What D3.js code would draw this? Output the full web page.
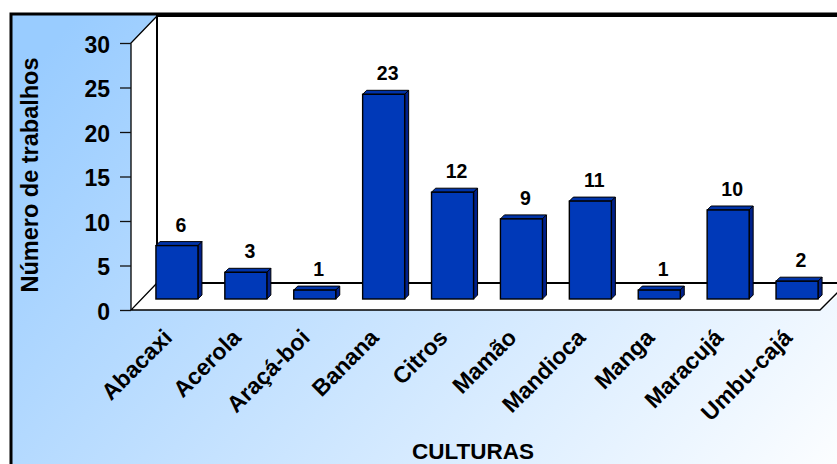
<!DOCTYPE html>
<html><head><meta charset="utf-8">
<script src="https://cdn.jsdelivr.net/npm/d3@7"></script>
<style>html,body{margin:0;padding:0;background:#fff;overflow:hidden}svg{display:block}text{font-family:"Liberation Sans",Arial,sans-serif;font-weight:bold;fill:#000}</style>
</head><body><div id="c"></div>
<script>
const categories=["Abacaxi","Acerola","Araçá-boi","Banana","Citros","Mamão","Mandioca","Manga","Maracujá","Umbu-cajá"];
const values=[6,3,1,23,12,9,11,1,10,2];
const yTicks=[0,5,10,15,20,25,30];
const xTitle="CULTURAS", yTitle="Número de trabalhos";

const W=837,H=464;
const svg=d3.select("#c").append("svg").attr("width",W).attr("height",H);
const defs=svg.append("defs");
const g=defs.append("linearGradient").attr("id","bg").attr("gradientUnits","userSpaceOnUse")
 .attr("x1",90).attr("y1",0).attr("x2",780).attr("y2",580);
g.append("stop").attr("offset",0).attr("stop-color","#99ccff");
g.append("stop").attr("offset",1).attr("stop-color","#ffffff");
svg.append("rect").attr("x",11).attr("y",14).attr("width",W).attr("height",H).attr("fill","url(#bg)").attr("stroke","#000").attr("stroke-width",3);

const x0=131,x1=820,dx=26,dy=-27;
const y=d3.scaleLinear().domain([0,30]).range([310,43]);
const x=d3.scaleBand().domain(categories).range([x0+11.5,x1+11.5]).paddingInner(0.39).paddingOuter(0.195);
const sx=4, sy=-4;

const line=(pts)=>d3.line()(pts);
// walls and floor
svg.append("path").attr("d",line([[x0,y(0)],[x0,y(30)],[x0+dx,y(30)+dy],[x0+dx,y(0)+dy]])+"Z").attr("fill","#fff");
svg.append("path").attr("d",line([[x0+dx,y(30)+dy],[W+5,y(30)+dy],[W+5,y(0)+dy],[x0+dx,y(0)+dy]])+"Z").attr("fill","#fff");
svg.append("path").attr("d",line([[x0,y(0)],[x0+dx,y(0)+dy],[W+5,y(0)+dy],[W+5,y(0)-17],[x1,y(0)]])+"Z").attr("fill","#fff");
// wall lines
const st=(s,w=1.5)=>s.attr("fill","none").attr("stroke","#000").attr("stroke-width",w);
st(svg.append("path").attr("d",line([[x0+dx,y(0)+dy],[x0+dx,y(30)+dy],[W,y(30)+dy]])),2);
st(svg.append("path").attr("d",line([[x0+dx,y(0)+dy],[W,y(0)+dy]])),2);
st(svg.append("path").attr("d",line([[x0,y(0)],[x0,y(30)],[x0+dx,y(30)+dy]])),1.3);
st(svg.append("path").attr("d",line([[x0+dx,y(0)+dy],[x0,y(0)],[x1,y(0)],[W+2,y(0)-19]])),1.3);
// y axis
const ax=svg.append("g").attr("transform",`translate(${x0},0)`).call(d3.axisLeft(y).tickValues(yTicks).tickSize(11).tickPadding(10));
ax.select(".domain").remove();
ax.selectAll("line").attr("stroke","#111").attr("stroke-width",1.3);
ax.selectAll("text").attr("dy","0.4em").style("font-size","23px").style("font-family",'"Liberation Sans"').style("font-weight","bold");
// bars
const b=svg.selectAll(".bar").data(values).join("g").attr("class","bar");
const L=(d,i)=>x(categories[i]), T=d=>y(d)-y(0)+299;
const bw=x.bandwidth();
b.append("path").attr("d",(d,i)=>line([[L(d,i),T(d)],[L(d,i)+sx,T(d)+sy],[L(d,i)+bw+sx,T(d)+sy],[L(d,i)+bw,T(d)]])+"Z")
 .attr("fill","#0033a8").attr("stroke","#000").attr("stroke-width",1);
b.append("path").attr("d",(d,i)=>line([[L(d,i)+bw,T(d)],[L(d,i)+bw+sx,T(d)+sy],[L(d,i)+bw+sx,299+sy],[L(d,i)+bw,299]])+"Z")
 .attr("fill","#00208a").attr("stroke","#000").attr("stroke-width",1);
b.append("rect").attr("x",(d,i)=>L(d,i)).attr("y",T).attr("width",bw).attr("height",d=>299-T(d))
 .attr("fill","#0039b8").attr("stroke","#000").attr("stroke-width",1.4);
// value labels
b.append("text").attr("x",(d,i)=>L(d,i)+bw/2+4).attr("y",d=>T(d)-14).attr("text-anchor","middle").style("font-size","19.5px").text(d=>d);
// category labels
svg.selectAll(".cat").data(categories).join("text").attr("class","cat")
 .attr("transform",(d)=>`translate(${x(d)+bw/2-3.5},339) rotate(-45)`)
 .attr("text-anchor","end").style("font-size","23px").text(d=>d);
// titles
svg.append("text").attr("x",473).attr("y",459).attr("text-anchor","middle").style("font-size","22.5px").text(xTitle);
svg.append("text").attr("transform","translate(38,175) rotate(-90)").attr("text-anchor","middle").style("font-size","23.5px").text(yTitle);
</script></body></html>
